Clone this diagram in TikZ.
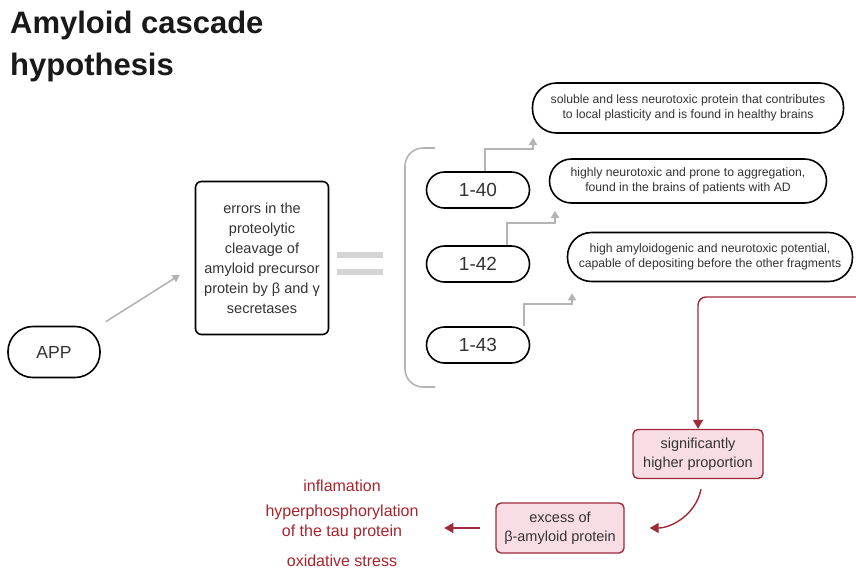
\documentclass[tikz,border=0pt]{standalone}
\usepackage{fontspec}
\setmainfont{Liberation Sans}
\usetikzlibrary{arrows.meta}

\definecolor{linegray}{HTML}{B4B4B4}
\definecolor{bargray}{HTML}{D4D4D4}
\definecolor{txtgray}{HTML}{333333}
\definecolor{winered}{HTML}{9E2A3A}
\definecolor{rosefill}{HTML}{F9DDE4}
\definecolor{effred}{HTML}{A8242C}

\newcommand{\fsz}[2]{\fontsize{#1}{#2}\selectfont}

\begin{document}
\begin{tikzpicture}[x=1pt,y=-1pt,>={Triangle[length=7pt,width=8pt]},
  pill/.style={draw,line width=1.6pt,inner sep=0pt,text=txtgray,align=center},
  box/.style={draw,rounded corners=6pt,line width=1.6pt,inner sep=0pt,text=txtgray,align=center},
  pink node/.style={draw=winered,fill=rosefill,rounded corners=5pt,line width=1.4pt,inner sep=0pt,text=txtgray,align=center,font=\fsz{14.5}{18.5}},
  gray arrow/.style={->,draw=linegray,line width=1.6pt,color=linegray},
  red arrow/.style={-{Triangle[length=9pt,width=10pt]},draw=winered,line width=1.4pt,color=winered}]

	\useasboundingbox[fill=white] (0,0) rectangle (856,571);

	\node[anchor=north west,inner sep=0pt,align=left,text=black!90,font=\fsz{31}{42}\bfseries] (title) at (10,10.5) {Amyloid cascade\\hypothesis};

	\node[pill,rounded corners=25pt,minimum width=92pt,minimum height=51pt,font=\fsz{17.5}{20}] (app) at (54,352) {APP};
	\node[box,minimum width=133pt,minimum height=153pt,font=\fsz{14.5}{20}] (err) at (262,258) {errors in the\\proteolytic\\cleavage of\\amyloid precursor\\protein by β and γ\\secretases};

	% fragments
	\node[pill,rounded corners=18pt,minimum width=103pt,minimum height=36pt,font=\fsz{19}{20}] (f40) at (478,190) {1-40};
	\node[pill,rounded corners=18pt,minimum width=103pt,minimum height=36pt,font=\fsz{19}{20}] (f42) at (478,264) {1-42};
	\node[pill,rounded corners=18pt,minimum width=103pt,minimum height=36pt,font=\fsz{19}{20}] (f43) at (478,345) {1-43};

	\node[pill,rounded corners=24pt,minimum width=311pt,minimum height=50pt,font=\fsz{12.2}{15.5}] (d40) at (688,108) {soluble and less neurotoxic protein that contributes\\to local plasticity and is found in healthy brains};
	\node[pill,rounded corners=22pt,minimum width=277pt,minimum height=44pt,font=\fsz{12.2}{15.5}] (d42) at (688,181) {highly neurotoxic and prone to aggregation,\\found in the brains of patients with AD};
	\node[pill,rounded corners=24pt,minimum width=285pt,minimum height=49pt,font=\fsz{12.2}{15.5}] (d43) at (710,257) {high amyloidogenic and neurotoxic potential,\\capable of depositing before the other fragments};

	\node[pink node,minimum width=130pt,minimum height=49pt] (sig) at (698,454) {significantly\\higher proportion};
	\node[pink node,minimum width=128pt,minimum height=50pt] (exc) at (560,528) {excess of\\β-amyloid protein};
	\node[inner sep=0pt,text=effred,align=center,font=\fsz{16}{20}] (eff) at (342,523) {inflamation\\[5pt]hyperphosphorylation\\of the tau protein\\[10pt]oxidative stress};

	\coordinate (redin) at (856,297);

	% equals sign and bracket
	\draw[bargray,line width=6pt] (337,255) -- (383,255);
	\draw[bargray,line width=6pt] (337,272) -- (383,272);
	\draw[linegray,line width=1.6pt,rounded corners=18pt] (435,148) -- (405,148) -- (405,387) -- (435,387);

	\draw[gray arrow] ([xshift=5pt,yshift=4pt]app.north east) -- ([xshift=-15pt,yshift=-17pt]err.west);
	\draw[gray arrow] ([xshift=7pt]f40.north) -- ++(0,-22) -| ([xshift=-155pt,yshift=-4pt]d40.south);
	\draw[gray arrow] ([xshift=29pt]f42.north) -- ++(0,-22) -| ([xshift=-133pt,yshift=-7pt]d42.south);
	\draw[gray arrow] ([xshift=46pt]f43.north) -- ++(0,-22) -| ([xshift=-138pt,yshift=-11pt]d43.south);

	\draw[red arrow,rounded corners=8pt] (redin) -| (sig.north);
	\draw[red arrow] ([xshift=3pt,yshift=-10pt]sig.south) .. controls +(-5,25) and +(22,0) .. ([xshift=25pt]exc.east);
	\draw[red arrow] ([xshift=-15pt]exc.west) -- ([xshift=-51pt]exc.west);

\end{tikzpicture}
\end{document}
